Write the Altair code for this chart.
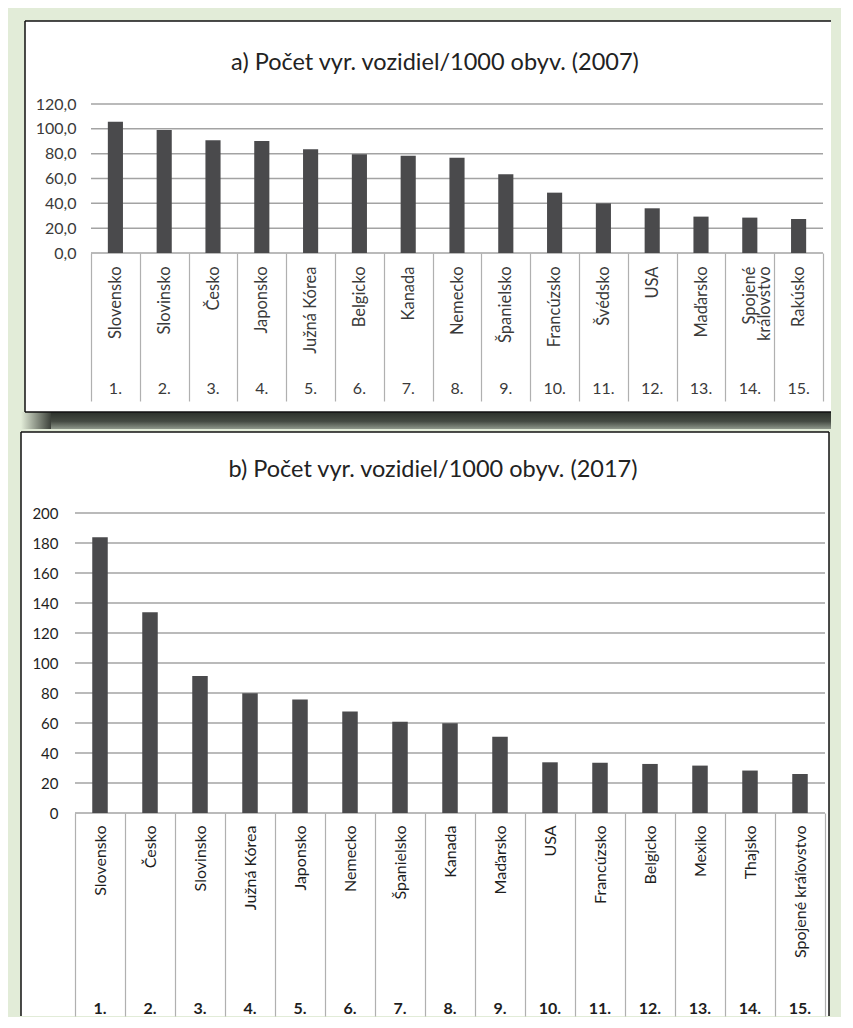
import altair as alt
import pandas as pd

# ---------------- data ----------------
countries_2007 = ["Slovensko", "Slovinsko", "Česko", "Japonsko", "Južná Kórea",
                  "Belgicko", "Kanada", "Nemecko", "Španielsko", "Francúzsko",
                  "Švédsko", "USA", "Maďarsko", "Spojené kráľovstvo", "Rakúsko"]
values_2007 = [105.7, 99.0, 90.8, 90.2, 83.5, 79.5, 78.4, 76.8, 63.4, 48.6,
               40.0, 36.0, 29.3, 28.5, 27.4]

countries_2017 = ["Slovensko", "Česko", "Slovinsko", "Južná Kórea", "Japonsko",
                  "Nemecko", "Španielsko", "Kanada", "Maďarsko", "USA",
                  "Francúzsko", "Belgicko", "Mexiko", "Thajsko", "Spojené kráľovstvo"]
values_2017 = [183.8, 133.8, 91.3, 79.8, 75.6, 67.6, 60.9, 59.8, 50.9, 33.8,
               33.5, 32.7, 31.6, 28.3, 26.0]

ranks = ["1.", "2.", "3.", "4.", "5.", "6.", "7.", "8.", "9.", "10.",
         "11.", "12.", "13.", "14.", "15."]

ticks_2007 = [0, 20, 40, 60, 80, 100, 120]
ticks_2017 = [0, 20, 40, 60, 80, 100, 120, 140, 160, 180, 200]

title_2007 = "a) Počet vyr. vozidiel/1000 obyv. (2007)"
title_2017 = "b) Počet vyr. vozidiel/1000 obyv. (2017)"

# ---------------- style ----------------
FONT = "Lato"
BG = "#e2ecd8"
BAR = "#4a4a4c"
GRID = "#a3a3a3"
SEP = "#b0b0b0"
BORDER = "#111111"

one_row = pd.DataFrame({"k": [0]})


def rule(x, y, x2=None, y2=None):
    enc = dict(x=alt.value(x), y=alt.value(y))
    if x2 is not None:
        enc["x2"] = alt.value(x2)
    if y2 is not None:
        enc["y2"] = alt.value(y2)
    return alt.Chart(one_row).mark_rule(color=BORDER, strokeWidth=1.5, clip=False).encode(**enc)


def panel(title, countries, values, ticks, w, h, s):
    df = pd.DataFrame({"country": countries, "value": values, "rank": ranks})
    tdf = pd.DataFrame({"value": ticks})

    x_enc = alt.X(
        "country:N", sort=countries,
        scale=alt.Scale(paddingInner=0, paddingOuter=0, range=s["xRange"]),
        axis=alt.Axis(
            title=None, labelAngle=270, labelAlign="right", labelBaseline="middle",
            labelPadding=s["labelPadding"], tickSize=s["tickSize"], tickBand="extent",
            tickColor=SEP, tickWidth=1.2, domain=False, labelFont=FONT,
            labelFontSize=s["labelSize"], labelColor=s["textColor"], labelOverlap=False,
            labelLimit=400, labelLineHeight=15, labelExpr=s["labelExpr"], zindex=1,
        ),
    )
    y_enc = alt.Y(
        "value:Q",
        scale=alt.Scale(domain=[0, ticks[-1]], nice=False, zero=True),
        axis=alt.Axis(
            title=None, values=ticks, grid=False, domain=False, ticks=False,
            offset=s["yOffset"], labelPadding=s["yPad"], labelFont=FONT,
            labelFontSize=s["ySize"], labelColor=s["textColor"], labelExpr=s["yExpr"],
            zindex=1,
        ),
    )

    layers = []
    # white panel background
    layers.append(
        alt.Chart(one_row).mark_rect(fill="white", clip=False).encode(
            x=alt.value(s["rx"]), x2=alt.value(s["rx2"]),
            y=alt.value(s["ry"]), y2=alt.value(s["ry2"]),
        )
    )
    for extra in s.get("extras", []):
        layers.append(extra)
    # gridlines
    layers.append(
        alt.Chart(tdf).mark_rule(color=GRID, strokeWidth=1.5).encode(
            y=y_enc, x=alt.value(s["xRange"][0]), x2=alt.value(s["xRange"][1])
        )
    )
    # bars
    layers.append(
        alt.Chart(df).mark_bar(color=BAR, width=alt.RelativeBandSize(0.31)).encode(
            x=x_enc, y=y_enc
        )
    )
    # rank numbers below the names
    layers.append(
        alt.Chart(df).mark_text(
            font=FONT, fontSize=s["numSize"], color=s["textColor"],
            baseline="middle", fontWeight=s["numWeight"],
        ).encode(x=x_enc, y=alt.value(h + s["numY"]), text="rank:N")
    )
    # title
    layers.append(
        alt.Chart(one_row).mark_text(
            text=title, font=FONT, fontSize=s["titleSize"], color="#222222",
            baseline="middle", align="center",
        ).encode(x=alt.value(s["tx"]), y=alt.value(s["ty"]))
    )
    return alt.layer(*layers).properties(width=w, height=h)


# ---- panel a ----
wa, ha = 732, 149
shadow_main = alt.Chart(one_row).mark_rect(
    color=alt.LinearGradient(
        gradient="linear", x1=0, x2=0, y1=0, y2=1,
        stops=[alt.GradientStop(offset=0, color="#2c312b"),
               alt.GradientStop(offset=0.55, color="#454b43"),
               alt.GradientStop(offset=1, color="#8f988b")],
    ),
    clip=False,
).encode(x=alt.value(-40), x2=alt.value(wa + 8), y=alt.value(ha + 159), y2=alt.value(ha + 176))
shadow_fade = alt.Chart(one_row).mark_rect(
    color=alt.LinearGradient(
        gradient="linear", x1=0, x2=1, y1=0, y2=0,
        stops=[alt.GradientStop(offset=0, color=BG),
               alt.GradientStop(offset=1, color="#3c413a")],
    ),
    clip=False,
).encode(x=alt.value(-70), x2=alt.value(-40), y=alt.value(ha + 159), y2=alt.value(ha + 176))

style_a = dict(
    xRange=[0, wa], labelPadding=-135, tickSize=148, labelSize=16.5, textColor="#3a3a3a",
    labelExpr="datum.label == 'Spojené kráľovstvo' ? ['Spojené', 'kráľovstvo'] : datum.label",
    yOffset=0, yPad=15, ySize=16, yExpr="replace(format(datum.value, '.1f'), '.', ',')",
    rx=-66, rx2=wa + 8, ry=-83, ry2=ha + 159,
    extras=[shadow_fade, shadow_main,
            rule(-66, -83, y2=ha + 159), rule(-66, -83, x2=wa + 8),
            rule(-66, ha + 159, x2=wa + 8)],
    numSize=16, numY=136, numWeight="normal", titleSize=23.5, tx=344, ty=-41,
)
chart_a = panel(title_2007, countries_2007, values_2007, ticks_2007, wa, ha, style_a)

# ---- panel b ----
wb, hb = 734, 300
style_b = dict(
    xRange=[-16, wb], labelPadding=-191, tickSize=203, labelSize=16, textColor="#1e1e1e",
    labelExpr="datum.label",
    yOffset=16, yPad=17, ySize=15, yExpr="format(datum.value, 'd')",
    rx=-70, rx2=wb + 4, ry=-81, ry2=hb + 203,
    extras=[rule(-70, -81, y2=hb + 203), rule(-70, -81, x2=wb + 4),
            rule(wb + 4, -81, y2=hb + 203)],
    numSize=16, numY=196, numWeight="bold", titleSize=23.5, tx=342, ty=-43,
)
chart_b = panel(title_2017, countries_2017, values_2017, ticks_2017, wb, hb, style_b)

chart = alt.vconcat(chart_a, chart_b, spacing=2).properties(
    background=BG,
    padding={"left": 12, "top": 12, "right": 0, "bottom": 0},
).configure_view(strokeWidth=0)

chart.save("out.html", embed_options={"renderer": "svg", "actions": False})
